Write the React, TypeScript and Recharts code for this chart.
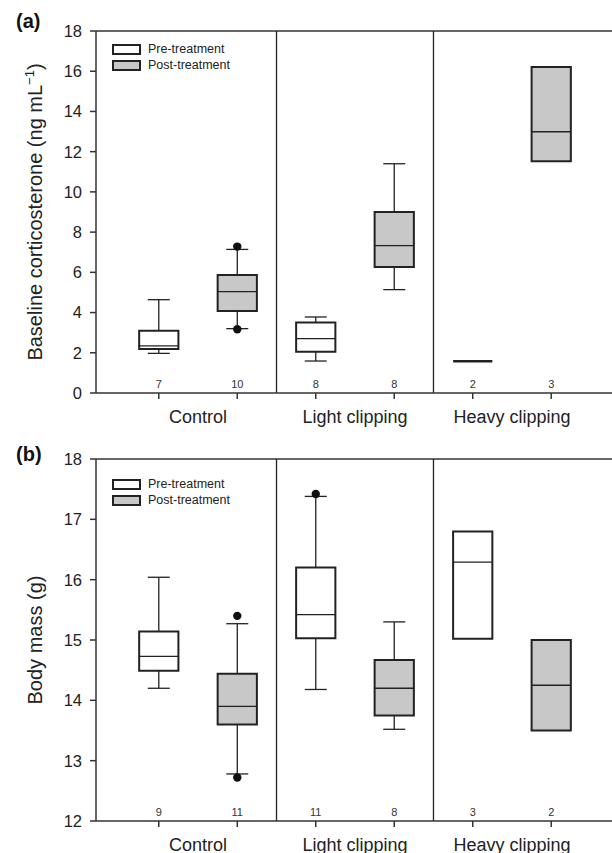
import { ComposedChart, XAxis, YAxis, Scatter, ReferenceArea, ReferenceLine, Legend } from 'recharts';

// box order: Control pre, Control post, Light pre, Light post, Heavy pre, Heavy post
const groups = ['Control', 'Light clipping', 'Heavy clipping'];
const treatments = ['Pre-treatment', 'Post-treatment'];
const slots = [0, 1, 2, 3, 4, 5];
const xTicks = [0, 0.5, 1, 2, 2.5, 3, 4, 4.5, 5];

// (a) baseline corticosterone
const cortLow = [1.97, 3.2, 1.59, 5.14, null, null];
const cortQ1 = [2.19, 4.08, 2.05, 6.27, 1.58, 11.52];
const cortMedian = [2.34, 5.04, 2.7, 7.33, 1.58, 12.99];
const cortQ3 = [3.1, 5.87, 3.5, 9.0, 1.58, 16.21];
const cortHigh = [4.64, 7.14, 3.78, 11.4, null, null];
const cortOutlierSlot = [1, 1];
const cortOutlierValue = [7.28, 3.17];
const cortN = [7, 10, 8, 8, 2, 3];
const cortTicks = [0, 2, 4, 6, 8, 10, 12, 14, 16, 18];

// (b) body mass
const massLow = [14.2, 12.78, 14.18, 13.52, null, null];
const massQ1 = [14.49, 13.6, 15.03, 13.75, 15.02, 13.5];
const massMedian = [14.73, 13.9, 15.42, 14.2, 16.29, 14.25];
const massQ3 = [15.14, 14.44, 16.2, 14.67, 16.8, 15.0];
const massHigh = [16.04, 15.27, 17.38, 15.3, null, null];
const massOutlierSlot = [1, 1, 2];
const massOutlierValue = [15.4, 12.72, 17.42];
const massN = [9, 11, 11, 8, 3, 2];
const massTicks = [12, 13, 14, 15, 16, 17, 18];

const FONT = '"Liberation Sans", Arial, sans-serif';
const INK = '#222';
const GREY = '#c8c8c8';

type PanelProps = {
  letter: string;
  letterY: number;
  title: React.ReactNode;
  low: (number | null)[];
  q1: number[];
  median: number[];
  q3: number[];
  high: (number | null)[];
  outlierSlot: number[];
  outlierValue: number[];
  counts: number[];
  yTicks: number[];
  height: number;
  top: number;
  axisHeight: number;
  legendTop: number;
};

function Panel(p: PanelProps) {
  const yMin = p.yTicks[0];
  const yMax = p.yTicks[p.yTicks.length - 1];
  const outliers = p.outlierSlot.map((s, i) => ({ x: s, y: p.outlierValue[i] }));

  const boxes: any[] = [];
  const lines: any[] = [];
  slots.forEach((i) => {
    const fill = i % 2 ? GREY : '#fff';
    const lo = p.low[i];
    const hi = p.high[i];
    if (lo != null) {
      lines.push(<ReferenceLine key={'wl' + i} segment={[{ x: i, y: lo }, { x: i, y: p.q1[i] }]} stroke={INK} strokeWidth={1.3} />);
      lines.push(<ReferenceLine key={'cl' + i} segment={[{ x: i - 0.14, y: lo }, { x: i + 0.14, y: lo }]} stroke={INK} strokeWidth={1.3} />);
    }
    if (hi != null) {
      lines.push(<ReferenceLine key={'wh' + i} segment={[{ x: i, y: p.q3[i] }, { x: i, y: hi }]} stroke={INK} strokeWidth={1.3} />);
      lines.push(<ReferenceLine key={'ch' + i} segment={[{ x: i - 0.14, y: hi }, { x: i + 0.14, y: hi }]} stroke={INK} strokeWidth={1.3} />);
    }
    const flat = p.q3[i] <= p.q1[i];
    if (!flat) {
      boxes.push(
        <ReferenceArea key={'b' + i} x1={i - 0.25} x2={i + 0.25} y1={p.q1[i]} y2={p.q3[i]}
          fill={fill} fillOpacity={1} stroke={INK} strokeWidth={2} />
      );
    }
    lines.push(
      <ReferenceLine key={'m' + i} segment={[{ x: i - 0.25, y: p.median[i] }, { x: i + 0.25, y: p.median[i] }]}
        stroke={INK} strokeWidth={flat ? 2.5 : 1.3} />
    );
  });

  const renderXTick = (props: any) => {
    const { x, y, payload } = props;
    const v = payload.value;
    if (Number.isInteger(v)) {
      return (
        <g>
          <line x1={x} x2={x} y1={y} y2={y + 6} stroke="#333" strokeWidth={1.5} />
          <text x={x} y={y - 5} textAnchor="middle" fontSize={11} fill="#333" fontFamily={FONT}>{p.counts[v]}</text>
        </g>
      );
    }
    return (
      <text x={x} y={y + 30} textAnchor="middle" fontSize={18} fill={INK} fontFamily={FONT}>{groups[(v - 0.5) / 2]}</text>
    );
  };

  const renderYLabel = (props: any) => {
    const vb = props.viewBox || { x: 0, y: 0, width: 96, height: 0 };
    const cy = vb.y + vb.height / 2;
    return (
      <g>
        <text x={16} y={p.letterY} fontSize={20} fontWeight="bold" fill="#111" fontFamily={FONT}>{p.letter}</text>
        <text x={42} y={cy} transform={`rotate(-90, 42, ${cy})`} textAnchor="middle" fontSize={20} fill={INK} fontFamily={FONT}>
          {p.title}
        </text>
      </g>
    );
  };

  const renderLegend = () => (
    <div style={{ fontFamily: FONT, fontSize: 12.5, color: INK }}>
      {treatments.map((t, i) => (
        <div key={t} style={{ display: 'flex', alignItems: 'center', height: 16 }}>
          <div style={{ width: 25, height: 7, border: '2px solid ' + INK, background: i ? GREY : '#fff', marginRight: 7 }} />
          <span>{t}</span>
        </div>
      ))}
    </div>
  );

  return (
    <ComposedChart width={620} height={p.height} margin={{ top: p.top, right: 6, left: 0, bottom: 0 }}>
      <XAxis type="number" dataKey="x" domain={[-0.8, 5.8]} allowDataOverflow ticks={xTicks} interval={0}
        tickSize={0} tickMargin={0} tickLine={false} height={p.axisHeight}
        axisLine={{ stroke: '#333', strokeWidth: 1.5 }} tick={renderXTick} />
      <YAxis type="number" dataKey="y" domain={[yMin, yMax]} allowDataOverflow ticks={p.yTicks} interval={0}
        width={96} tickSize={6} tickMargin={8}
        axisLine={{ stroke: '#333', strokeWidth: 1.5 }} tickLine={{ stroke: '#333', strokeWidth: 1.5 }}
        tick={{ fontSize: 16.5, fill: INK, fontFamily: FONT }}
        label={{ content: renderYLabel }} />
      <Legend layout="vertical" align="center" verticalAlign="middle" content={renderLegend}
        wrapperStyle={{ left: 112, top: p.legendTop, width: 180, height: 34 }} />
      <ReferenceLine y={yMax} stroke="#333" strokeWidth={1.5} />
      <ReferenceLine x={1.5} stroke={INK} strokeWidth={1.3} />
      <ReferenceLine x={3.5} stroke={INK} strokeWidth={1.3} />
      {boxes}
      {lines}
      <Scatter data={outliers} fill="#111" isAnimationActive={false}
        shape={(s: any) => <circle cx={s.cx} cy={s.cy} r={4.2} fill="#111" />} />
    </ComposedChart>
  );
}

export default function App() {
  return (
    <div style={{ position: 'absolute', left: 0, top: 0, width: 612, height: 853, overflow: 'hidden', background: '#fff' }}>
      <Panel
        letter="(a)"
        letterY={28}
        title={<>Baseline corticosterone (ng mL<tspan fontSize={13} dy={-8}>−1</tspan><tspan dy={8}>)</tspan></>}
        low={cortLow} q1={cortQ1} median={cortMedian} q3={cortQ3} high={cortHigh}
        outlierSlot={cortOutlierSlot} outlierValue={cortOutlierValue} counts={cortN}
        yTicks={cortTicks} height={430} top={31} axisHeight={37} legendTop={41}
      />
      <Panel
        letter="(b)"
        letterY={31}
        title="Body mass (g)"
        low={massLow} q1={massQ1} median={massMedian} q3={massQ3} high={massHigh}
        outlierSlot={massOutlierSlot} outlierValue={massOutlierValue} counts={massN}
        yTicks={massTicks} height={423} top={29} axisHeight={32} legendTop={46}
      />
    </div>
  );
}
